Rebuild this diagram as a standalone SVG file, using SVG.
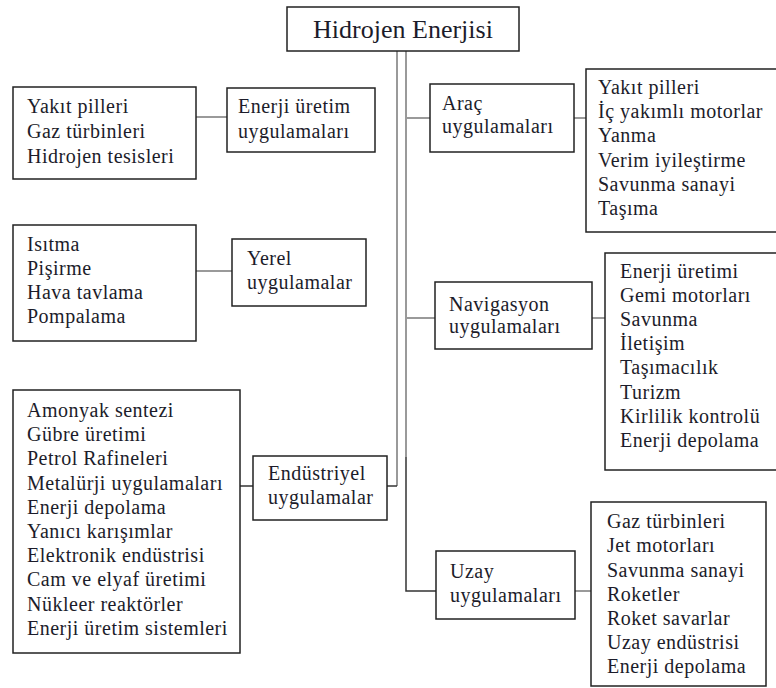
<svg xmlns="http://www.w3.org/2000/svg" width="776" height="688" viewBox="0 0 776 688">
<style>
.box{fill:#fff;stroke:#222;stroke-width:1.5}
.t{font-family:"Liberation Serif","Times New Roman",serif;font-size:20px;fill:#1c1c2a;letter-spacing:0.5px}
.title{font-family:"Liberation Serif","Times New Roman",serif;font-size:26px;fill:#1c1c2a;text-anchor:middle}
.c{fill:none;stroke:#9a9a9a;stroke-width:2}
.cd{fill:none;stroke:#333;stroke-width:1.5}
</style>
<rect width="776" height="688" fill="#fff"/>
<g id="connectors">
<path class="c" d="M397 51V486"/>
<path class="cd" d="M397 486H387"/>
<path class="c" d="M406 51V457"/>
<path class="cd" d="M406 457V591H436"/>
<path class="c" d="M406 118H430"/>
<path class="c" d="M574 118H586"/>
<path class="c" d="M406 318H435"/>
<path class="c" d="M592 318H605"/>
<path class="c" d="M575 591H591"/>
<path class="c" d="M196 117H227"/>
<path class="c" d="M196 271H232"/>
<path class="cd" d="M240 486H253"/>
</g>
<g id="n_root">
<rect class="box" x="287" y="7" width="232" height="44"/>
<text class="title" x="403" y="38">Hidrojen Enerjisi</text>
</g>
<g id="n_energy_list">
<rect class="box" x="13" y="87" width="183" height="92"/>
<text class="t" x="27" y="113">Yakıt pilleri</text>
<text class="t" x="27" y="138">Gaz türbinleri</text>
<text class="t" x="27" y="163">Hidrojen tesisleri</text>
</g>
<g id="n_energy">
<rect class="box" x="227" y="88" width="148" height="64"/>
<text class="t" x="238" y="113">Enerji üretim</text>
<text class="t" x="238" y="138">uygulamaları</text>
</g>
<g id="n_local_list">
<rect class="box" x="13" y="225" width="183" height="116"/>
<text class="t" x="27" y="251">Isıtma</text>
<text class="t" x="27" y="275">Pişirme</text>
<text class="t" x="27" y="299">Hava tavlama</text>
<text class="t" x="27" y="323">Pompalama</text>
</g>
<g id="n_local">
<rect class="box" x="232" y="239" width="134" height="67"/>
<text class="t" x="247" y="265">Yerel</text>
<text class="t" x="247" y="289">uygulamalar</text>
</g>
<g id="n_ind_list">
<rect class="box" x="13" y="390" width="227" height="263"/>
<text class="t" x="27" y="417">Amonyak sentezi</text>
<text class="t" x="27" y="441">Gübre üretimi</text>
<text class="t" x="27" y="465">Petrol Rafineleri</text>
<text class="t" x="27" y="490">Metalürji uygulamaları</text>
<text class="t" x="27" y="514">Enerji depolama</text>
<text class="t" x="27" y="538">Yanıcı karışımlar</text>
<text class="t" x="27" y="562">Elektronik endüstrisi</text>
<text class="t" x="27" y="586">Cam ve elyaf üretimi</text>
<text class="t" x="27" y="611">Nükleer reaktörler</text>
<text class="t" x="27" y="635">Enerji üretim sistemleri</text>
</g>
<g id="n_ind">
<rect class="box" x="253" y="456" width="134" height="64"/>
<text class="t" x="268" y="480">Endüstriyel</text>
<text class="t" x="268" y="504">uygulamalar</text>
</g>
<g id="n_vehicle">
<rect class="box" x="430" y="84" width="144" height="68"/>
<text class="t" x="442" y="110">Araç</text>
<text class="t" x="442" y="133">uygulamaları</text>
</g>
<g id="n_vehicle_list">
<rect class="box" x="586" y="69" width="210" height="163"/>
<text class="t" x="598" y="94">Yakıt pilleri</text>
<text class="t" x="598" y="118">İç yakımlı motorlar</text>
<text class="t" x="598" y="142">Yanma</text>
<text class="t" x="598" y="167">Verim iyileştirme</text>
<text class="t" x="598" y="191">Savunma sanayi</text>
<text class="t" x="598" y="215">Taşıma</text>
</g>
<g id="n_nav">
<rect class="box" x="435" y="282" width="157" height="67"/>
<text class="t" x="449" y="311">Navigasyon</text>
<text class="t" x="449" y="333">uygulamaları</text>
</g>
<g id="n_nav_list">
<rect class="box" x="605" y="253" width="191" height="217"/>
<text class="t" x="620" y="278">Enerji üretimi</text>
<text class="t" x="620" y="302">Gemi motorları</text>
<text class="t" x="620" y="326">Savunma</text>
<text class="t" x="620" y="350">İletişim</text>
<text class="t" x="620" y="374">Taşımacılık</text>
<text class="t" x="620" y="399">Turizm</text>
<text class="t" x="620" y="423">Kirlilik kontrolü</text>
<text class="t" x="620" y="447">Enerji depolama</text>
</g>
<g id="n_space">
<rect class="box" x="436" y="551" width="139" height="68"/>
<text class="t" x="450" y="578">Uzay</text>
<text class="t" x="450" y="602">uygulamaları</text>
</g>
<g id="n_space_list">
<rect class="box" x="591" y="502" width="175" height="184"/>
<text class="t" x="607" y="528">Gaz türbinleri</text>
<text class="t" x="607" y="552">Jet motorları</text>
<text class="t" x="607" y="577">Savunma sanayi</text>
<text class="t" x="607" y="601">Roketler</text>
<text class="t" x="607" y="625">Roket savarlar</text>
<text class="t" x="607" y="649">Uzay endüstrisi</text>
<text class="t" x="607" y="673">Enerji depolama</text>
</g>
</svg>
